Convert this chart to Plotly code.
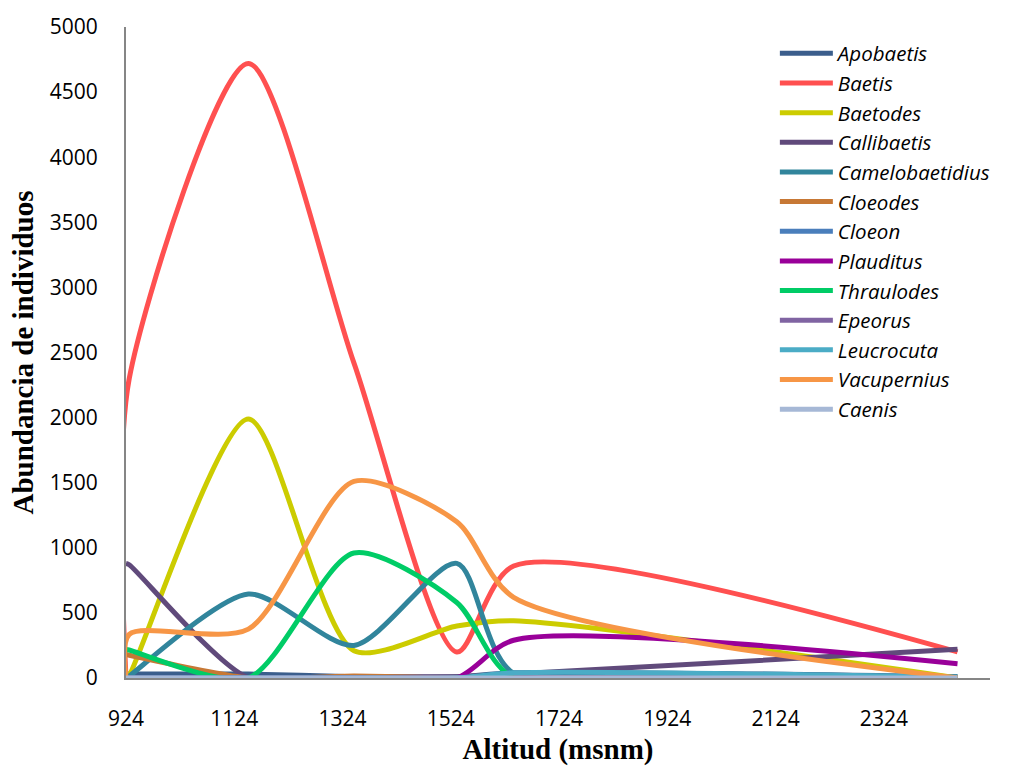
import plotly.graph_objects as go

altitud = [924, 930, 1150, 1345, 1535, 1640, 2460]

apobaetis = [30, 30, 30, 10, 10, 40, 10]
baetis = [0, 2300, 4720, 2420, 200, 860, 200]
baetodes = [0, 20, 1990, 210, 400, 440, 0]
callibaetis = [880, 870, 0, 10, 10, 30, 220]
camelobaetidius = [0, 15, 645, 250, 880, 35, 10]
cloeodes = [180, 175, 0, 15, 0, 0, 0]
cloeon = [0, 0, 0, 0, 0, 0, 0]
plauditus = [0, 0, 0, 0, 0, 290, 110]
thraulodes = [220, 215, 0, 960, 580, 0, 0]
epeorus = [0, 0, 0, 0, 0, 0, 0]
leucrocuta = [0, 0, 0, 0, 0, 40, 5]
vacupernius = [0, 335, 375, 1510, 1200, 620, 0]
caenis = [0, 0, 0, 0, 0, 0, 0]

series = [
    ("Apobaetis", apobaetis, "#3B5E8C"),
    ("Baetis", baetis, "#FF5050"),
    ("Baetodes", baetodes, "#CCCC00"),
    ("Callibaetis", callibaetis, "#604A7B"),
    ("Camelobaetidius", camelobaetidius, "#31859C"),
    ("Cloeodes", cloeodes, "#C77835"),
    ("Cloeon", cloeon, "#4A7EBB"),
    ("Plauditus", plauditus, "#990099"),
    ("Thraulodes", thraulodes, "#00CC66"),
    ("Epeorus", epeorus, "#8064A2"),
    ("Leucrocuta", leucrocuta, "#4BACC6"),
    ("Vacupernius", vacupernius, "#F79646"),
    ("Caenis", caenis, "#A6B8D6"),
]

x_ticks = [924, 1124, 1324, 1524, 1724, 1924, 2124, 2324]
y_ticks = list(range(0, 5001, 500))

fig = go.Figure()
for name, vals, color in series:
    fig.add_trace(go.Scatter(
        x=altitud, y=vals, mode="lines", name="<i>" + name + "</i>",
        line=dict(color=color, width=5, shape="spline", smoothing=0.75),
        cliponaxis=True,
    ))

fig.update_layout(
    width=1019, height=766,
    margin=dict(l=126, r=29, t=27, b=88, autoexpand=False),
    paper_bgcolor="white", plot_bgcolor="white",
    font=dict(family="Open Sans", size=21, color="black"),
    showlegend=True,
    legend=dict(
        x=0.751, y=0.99, xanchor="left", yanchor="top",
        font=dict(family="Open Sans", size=20.5, color="black"),
        bgcolor="rgba(0,0,0,0)", tracegroupgap=0, itemwidth=53,
    ),
    xaxis=dict(
        range=[924, 2520], tickmode="array", tickvals=x_ticks,
        ticktext=[str(v) for v in x_ticks], automargin=False,
        showgrid=False, zeroline=False, showline=True,
        linecolor="#868686", linewidth=2,
        ticks="outside", ticklen=21, tickcolor="rgba(0,0,0,0)",
        tickfont=dict(family="Open Sans", size=21),
        title=dict(text="<b>Altitud (msnm)</b>",
                   font=dict(family="Liberation Serif", size=29), standoff=14),
    ),
    yaxis=dict(
        range=[0, 5000], tickmode="array", tickvals=y_ticks, automargin=False,
        showgrid=False, zeroline=False, showline=True,
        linecolor="#868686", linewidth=2,
        ticks="outside", ticklen=22, tickcolor="rgba(0,0,0,0)",
        tickfont=dict(family="Open Sans", size=21),
        title=dict(text="<b>Abundancia de individuos</b>",
                   font=dict(family="Liberation Serif", size=29), standoff=8),
    ),
)

fig.write_html("out.html")
